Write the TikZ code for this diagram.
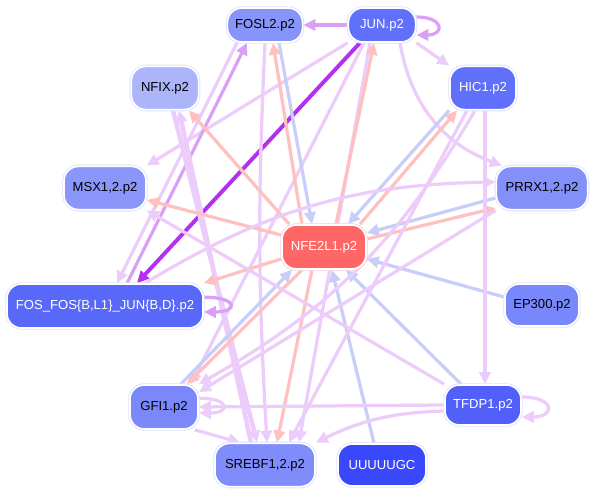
\documentclass[tikz,border=0pt]{standalone}
\usepackage{fontspec}
\setmainfont{Liberation Sans}
\usetikzlibrary{arrows.meta}
\pgfdeclarelayer{edges}
\pgfsetlayers{edges,main}
% edge colours
\definecolor{actv}{RGB}{236,204,250}
\definecolor{purp}{RGB}{218,160,246}
\definecolor{strong}{RGB}{178,48,240}
\definecolor{pinkc}{RGB}{255,192,192}
\definecolor{bluec}{RGB}{200,206,248}
\definecolor{ringc}{RGB}{222,226,252}
% node colours
\definecolor{cfosl}{RGB}{135,148,250}
\definecolor{cjun}{RGB}{96,112,250}
\definecolor{cnfix}{RGB}{172,180,250}
\definecolor{chic}{RGB}{96,112,250}
\definecolor{cmsx}{RGB}{138,150,250}
\definecolor{cprrx}{RGB}{132,144,250}
\definecolor{cnfe}{RGB}{255,102,102}
\definecolor{cfos}{RGB}{88,104,248}
\definecolor{cep}{RGB}{120,135,250}
\definecolor{cgfi}{RGB}{122,136,250}
\definecolor{ctfdp}{RGB}{80,96,248}
\definecolor{csrebf}{RGB}{128,140,250}
\definecolor{cuuu}{RGB}{56,72,250}
\begin{document}
\begin{tikzpicture}[x=0.025cm, y=0.025cm,
    >={Triangle[length=8.5pt,width=8pt]},
    tf/.style={rounded corners=0.36cm, minimum height=1.08cm, inner sep=1pt,
      font=\fontsize{9.3}{11}\selectfont, draw=white, line width=1.2pt,
      preaction={draw=ringc, line width=2.4pt}},
    lt/.style={tf, text=black},
    dk/.style={tf, text=white},
    lnk/.style={->, line width=2.3pt},
    selfloop/.style={lnk, looseness=5}]
    \useasboundingbox (0,0) rectangle (595,495);

    % Nodes
    \node[lt, fill=cfosl, minimum width=1.88cm, minimum height=0.85cm] (fosl) at (265,470) {FOSL2.p2};
    \node[dk, fill=cjun, minimum width=1.68cm, minimum height=0.85cm] (jun) at (382,470) {JUN.p2};
    \node[lt, fill=cnfix, minimum width=1.68cm] (nfix) at (165,407) {NFIX.p2};
    \node[dk, fill=chic, minimum width=1.65cm] (hic) at (483,407) {HIC1.p2};
    \node[lt, fill=cmsx, minimum width=2.05cm] (msx) at (105,307) {MSX1,2.p2};
    \node[lt, fill=cprrx, minimum width=2.28cm] (prrx) at (542,307) {PRRX1,2.p2};
    \node[dk, fill=cnfe, minimum width=2.1cm, minimum height=1.1cm, preaction={draw=pinkc!60, line width=2.4pt}] (nfe) at (324,248) {NFE2L1.p2};
    \node[dk, fill=cfos, minimum width=4.9cm, minimum height=1.1cm] (fos) at (105,189) {FOS\_FOS\{B,L1\}\_JUN\{B,D\}.p2};
    \node[lt, fill=cep, minimum width=1.85cm, minimum height=1.05cm] (ep) at (542,190) {EP300.p2};
    \node[lt, fill=cgfi, minimum width=1.7cm, minimum height=1.1cm] (gfi) at (164,88) {GFI1.p2};
    \node[dk, fill=ctfdp, minimum width=1.9cm, minimum height=1.0cm] (tfdp) at (483,90) {TFDP1.p2};
    \node[lt, fill=csrebf, minimum width=2.5cm] (srebf) at (265,30) {SREBF1,2.p2};
    \node[dk, fill=cuuu, minimum width=2.2cm, minimum height=1.05cm] (uuu) at (382,30) {UUUUUGC};

    \begin{pgfonlayer}{edges}
    % JUN
    \draw[lnk, purp] (jun.west) -- (fosl.east);
    \draw[selfloop, purp, looseness=4] ([yshift=0.2cm]jun.east) to[out=0, in=0] ([yshift=-0.25cm]jun.east);
    \draw[lnk, actv] (jun.south east) -- (hic.north west);
    \draw[lnk, actv] ([xshift=0.45cm]jun.south) to[bend right=30] ([xshift=-1.0cm]prrx.north);
    \draw[lnk, actv] (jun.south west) -- (msx.north east);
    \draw[lnk, actv] ([xshift=-0.45cm]jun.south) -- ([xshift=-0.2cm]gfi.north east);
    \draw[lnk, actv] ([xshift=-0.3cm]jun.south) -- ([xshift=0.85cm]srebf.north);
    \draw[lnk, strong, line width=2.8pt] ([xshift=-0.55cm]jun.south) -- ([xshift=0.8cm]fos.north);
    % FOSL2
    \draw[lnk, actv] ([xshift=-0.7cm]fosl.south) -- ([xshift=0.3cm]fos.north);
    \draw[lnk, purp] ([xshift=0.55cm]fos.north) -- ([xshift=-0.45cm]fosl.south);
    \draw[lnk, actv] (fosl.south) to[bend right=3] ([xshift=0.05cm]srebf.north);
    \draw[lnk, bluec] ([xshift=0.35cm]fosl.south) -- ([xshift=-0.3cm]nfe.north);
    % NFIX
    \draw[lnk, actv, line width=3.2pt] ([xshift=0.2cm]nfix.south) -- ([xshift=-0.2cm]srebf.north);
    \draw[lnk, actv, line width=3.2pt] ([xshift=-0.35cm]srebf.north) -- ([xshift=0.35cm]nfix.south);
    % NFE2L1
    \draw[lnk, pinkc] ([xshift=0.3cm]nfe.north) -- ([xshift=-0.2cm]jun.south);
    \draw[lnk, pinkc] ([xshift=-0.55cm]nfe.north) -- ([xshift=0.2cm]fosl.south);
    \draw[lnk, pinkc] ([xshift=0.2cm]nfe.north west) -- ([xshift=0.6cm]nfix.south);
    \draw[lnk, pinkc] ([yshift=0.3cm]nfe.west) -- ([yshift=-0.3cm]msx.east);
    \draw[lnk, pinkc] ([yshift=-0.3cm]nfe.west) -- (fos.north east);
    \draw[lnk, pinkc] ([xshift=0.9cm]nfe.north) -- ([xshift=-0.65cm]hic.south);
    \draw[lnk, pinkc] ([yshift=0.2cm]nfe.east) -- ([yshift=-0.5cm]prrx.west);
    \draw[lnk, pinkc] ([xshift=-0.3cm]nfe.south) -- ([xshift=0.3cm]srebf.north);
    \draw[lnk, pinkc] ([xshift=-0.55cm]nfe.south) -- ([xshift=-0.3cm]gfi.north east);
    % into NFE2L1
    \draw[lnk, bluec] ([xshift=-0.85cm]hic.south) -- ([xshift=0.6cm]nfe.north);
    \draw[lnk, bluec] ([yshift=-0.25cm]prrx.west) -- ([yshift=0.35cm]nfe.east);
    \draw[lnk, bluec] ([yshift=0.2cm]ep.west) -- ([yshift=-0.3cm]nfe.east);
    \draw[lnk, bluec] ([xshift=-0.55cm]tfdp.north) -- ([xshift=0.55cm]nfe.south);
    \draw[lnk, bluec] ([xshift=-0.2cm]uuu.north) -- ([xshift=0.2cm]nfe.south);
    \draw[lnk, bluec] ([xshift=-0.45cm]gfi.north east) -- ([xshift=-0.8cm]nfe.south);
    % HIC1
    \draw[lnk, actv] ([xshift=0.05cm]hic.south) -- ([xshift=0.05cm]tfdp.north);
    \draw[lnk, actv] ([xshift=-0.4cm]hic.south) -- ([xshift=0.6cm]srebf.north);
    \draw[lnk, actv] ([xshift=-0.2cm]hic.south) to[bend left=15] (gfi.north east);
    % PRRX1,2
    \draw[lnk, actv] (prrx.south west) -- ([yshift=-0.2cm]gfi.north east);
    % FOS
    \draw[selfloop, purp, looseness=6] ([yshift=0.22cm]fos.east) to[out=0, in=0] ([yshift=-0.15cm]fos.east);
    \draw[lnk, actv] ([xshift=1.0cm]fos.north) to[bend left=15] ([yshift=0.15cm]prrx.west);
    % TFDP1
    \draw[lnk, actv] (tfdp.west) -- (gfi.east);
    \draw[lnk, actv] ([yshift=-0.15cm]tfdp.west) to[bend right=12] (srebf.north east);
    \draw[lnk, actv] (tfdp.north west) -- (msx.south east);
    \draw[selfloop, actv, looseness=4.3] ([yshift=0.2cm]tfdp.east) to[out=0, in=0] ([yshift=-0.3cm]tfdp.east);
    % GFI1
    \draw[selfloop, actv, looseness=5.5] ([yshift=0.22cm]gfi.east) to[out=0, in=0] ([yshift=-0.15cm]gfi.east);
    \draw[lnk, actv] ([xshift=-0.1cm]gfi.south east) -- ([xshift=0.65cm]srebf.north west);
    \end{pgfonlayer}
\end{tikzpicture}
\end{document}
